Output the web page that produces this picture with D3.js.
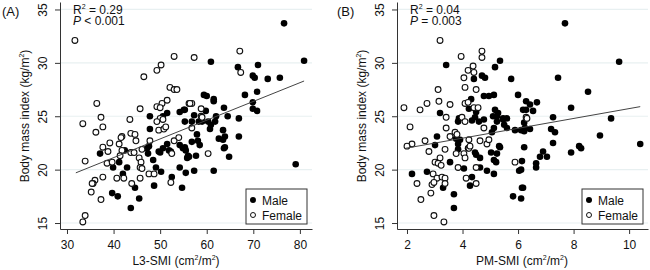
<!DOCTYPE html>
<html>
<head>
<meta charset="utf-8">
<script src="https://cdn.jsdelivr.net/npm/d3@7"></script>
<style>
  body { margin: 0; background: #fff; }
  text { font-family: Arial, "Liberation Sans", sans-serif; fill: #111; }
</style>
</head>
<body>
<div id="chart"></div>
<script>
const width = 650, height = 270;

// panel A: L3-SMI vs BMI
const maleA = [[47.8,25.0],[51.5,25.3],[50.6,25.0],[54.2,25.4],[55.1,25.6],
  [76.6,33.7],[80.9,30.2],[60.9,30.1],[66.7,29.6],[71.0,29.8],[69.9,28.8],[70.3,28.6],[73.1,28.5],[75.7,28.6],[70.8,27.3],[68.2,27.0],[59.4,27.0],[60.0,26.9],[61.5,26.6],[61.5,26.4],[69.9,26.3],[69.9,25.7],[70.8,25.5],[63.7,25.8],[59.8,25.5],[62.0,25.0],[64.5,25.0],[66.9,24.8],[57.3,25.1],[55.3,25.6],
  [47.8,23.8],[37.1,21.5],[42.4,21.8],[39.9,20.2],[41.2,20.7],[42.9,20.2],[42.0,19.6],[47.4,21.5],[47.6,22.2],[47.2,22.0],[48.5,20.9],[50.0,21.6],[49.7,21.7],[49.1,20.2],[50.2,19.8],[52.5,19.3],[50.6,22.0],[51.5,22.4],[51.9,21.8],[52.3,21.7],[54.2,20.2],[54.7,18.3],[44.6,18.3],[48.7,18.5],[39.7,17.8],[40.9,17.5],[45.5,17.3],[43.7,16.4],[54.2,22.3],[54.9,22.0],[55.5,21.8],[56.2,21.2],[55.8,21.1],
  [58.3,24.5],[59.0,24.5],[60.3,24.5],[60.9,24.2],[61.8,24.5],[55.3,24.5],[56.8,24.5],[60.7,23.8],[63.5,23.7],[66.9,23.1],[63.9,23.1],[63.5,22.8],[62.6,22.9],[57.9,23.3],[58.1,22.7],[58.5,22.3],[56.8,22.6],[55.3,22.1],[63.9,22.1],[63.7,22.0],[64.8,21.2],[56.0,21.3],[57.7,21.3],[61.5,19.9],[57.3,19.9],[79.1,20.5],[55.5,19.7]];
const femaleA = [[31.7,32.1],[53.0,30.6],[50.2,29.8],[49.3,29.3],[46.5,28.7],[52.1,27.7],[53.0,27.5],[53.6,27.5],[36.4,26.2],[51.5,26.5],[50.4,26.2],[45.7,25.7],[49.3,25.9],[50.0,25.8],[37.3,24.9],[43.5,24.7],[56.2,26.2],
  [67.1,31.1],[57.3,30.5],[67.3,29.1],[56.8,26.2],[56.4,26.2],[58.8,25.7],[58.8,25.0],
  [33.4,24.3],[36.2,23.5],[37.7,24.0],[50.0,24.8],[49.3,24.5],[50.6,24.7],[43.7,23.4],[44.6,23.3],[49.7,23.7],[50.8,23.8],[51.2,24.0],[41.8,23.1],[41.6,23.0],[44.8,22.7],[39.2,22.5],[37.7,22.1],[38.8,21.7],[41.2,22.4],[47.8,22.7],[53.0,22.7],[54.0,23.0],[41.8,21.8],[43.7,21.6],[44.4,21.6],[46.1,21.9],[41.4,21.3],[45.5,21.1],[33.9,20.8],[38.6,20.6],[39.7,20.7],[45.9,20.7],[45.7,20.2],[46.1,20.1],[47.6,19.6],[48.7,19.6],[52.5,21.5],[40.7,19.2],[42.2,19.2],[37.7,19.3],[45.7,19.2],[52.3,18.8],[36.0,19.0],[35.6,18.7],[35.4,18.7],[43.9,18.7],[35.2,17.9],[37.3,17.2],[33.9,15.7],[33.4,15.1],
  [60.3,21.5],[56.8,23.9],[59.0,24.9]];

// panel B: PM-SMI vs BMI
const maleB = [[3.41,29.8],[5.35,30.2],[5.17,29.6],[4.41,28.5],[4.70,28.8],[4.81,28.6],[5.75,28.5],[4.77,26.9],[4.95,26.9],[5.13,27.0],[6.0,27.0],[4.31,26.6],[4.23,25.7],[4.49,25.4],[3.19,25.3],[5.17,25.6],[5.28,25.3],[5.10,25.0],[5.24,25.0],[4.45,24.9],[3.87,24.8],[5.46,24.8],[5.60,24.8],[6.29,26.4],[6.29,25.6],
  [7.69,33.7],[9.64,30.1],[7.44,28.6],[8.52,27.3],[6.43,26.1],[6.68,26.3],[6.18,25.6],[6.54,25.5],[7.91,25.8],[7.26,24.9],[9.35,24.8],
  [3.08,23.1],[3.01,22.3],[3.84,22.4],[3.77,22.9],[3.91,22.8],[4.20,22.0],[3.84,21.9],[2.18,19.6],[2.72,19.8],[3.55,20.7],[4.05,20.1],[4.34,19.3],[4.27,18.5],[3.30,18.3],[3.69,17.7],[3.69,16.4],[4.49,21.4],[4.63,21.1],[4.45,21.6],[4.88,19.9],[5.13,19.6],[4.63,20.2],[5.03,21.6],[5.24,21.5],[5.13,20.9],[5.21,20.7],[5.32,22.2],[5.35,22.1],[5.06,23.5],[5.13,23.9],[5.50,24.2],[5.60,23.9],[5.89,23.7],[6.11,23.7],[6.25,23.9],[6.04,19.9],[5.82,17.5],[6.11,17.3],[6.14,18.3],[4.34,24.6],[4.59,24.5],[4.77,24.7],[5.24,24.5],[5.46,24.7],[3.84,24.5],
  [6.22,24.4],[6.43,23.8],[6.22,23.6],[7.19,23.8],[7.33,23.5],[8.95,23.2],[10.40,22.4],[7.26,22.5],[6.22,22.1],[8.20,22.2],[8.27,22.0],[7.91,21.6],[6.90,21.7],[6.79,21.2],[7.04,21.2],[6.14,20.8],[6.65,20.6],[6.65,20.2],[6.11,20.0],[6.18,18.3]];
const femaleB = [[3.19,32.1],[4.70,31.1],[4.70,30.5],[3.95,30.6],[4.38,29.7],[4.20,29.3],[4.41,29.1],[4.05,28.6],[4.09,27.7],[4.49,27.5],[3.12,27.5],[3.15,26.4],[2.72,26.2],[2.47,25.6],[1.89,25.8],[3.55,26.1],[4.09,26.2],[4.20,26.3],[4.41,25.8],[4.56,25.8],[3.41,24.9],[3.98,24.9],[6.29,24.9],
  [2.11,24.0],[2.18,22.4],[2.0,22.2],[2.65,22.7],[2.79,21.7],[3.37,21.9],[3.41,23.9],[3.55,23.1],[3.73,23.5],[3.80,23.3],[4.09,24.5],[4.23,22.8],[4.23,22.0],[4.27,22.2],[4.05,21.5],[4.09,21.1],[3.77,21.5],[3.19,21.1],[3.01,20.7],[3.12,20.6],[3.23,20.4],[3.84,20.2],[2.94,19.6],[3.08,19.2],[3.26,19.3],[3.37,19.2],[2.90,18.6],[2.97,18.8],[3.37,18.7],[4.13,19.2],[4.49,18.7],[2.36,18.7],[2.86,17.8],[2.50,17.2],[2.97,15.7],[3.33,15.1],[4.88,22.4],[4.63,22.7],[4.95,22.8],[4.49,20.2],[5.89,20.7],[4.77,23.9],[6.32,24.8]];

// fitted lines (start, end)
const fitA = [[31.9,19.7],[80.9,28.3]];
const fitB = [[1.95,22.0],[10.4,25.9]];

const yTicks = [15, 20, 25, 30, 35];
const xTicksA = [30, 40, 50, 60, 70, 80];
const xTicksB = [2, 4, 6, 8, 10];

const svg = d3.select("#chart").append("svg")
  .attr("width", width).attr("height", height);

function panel(cfg) {
  const x = d3.scaleLinear().domain(cfg.xdom).range([cfg.left, cfg.right]);
  const y = d3.scaleLinear().domain([14.44, 35.7]).range([229, 2]);
  const g = svg.append("g");

  // gridlines
  g.selectAll(".grid").data(yTicks).join("line")
    .attr("x1", cfg.left).attr("x2", cfg.right)
    .attr("y1", d => y(d)).attr("y2", d => y(d))
    .attr("stroke", "#e8f0f1").attr("stroke-width", 1.2);

  // axes
  const yAxis = g.append("g")
    .attr("transform", `translate(${cfg.left},0)`)
    .call(d3.axisLeft(y).tickValues(yTicks).tickSize(5).tickSizeOuter(0));
  yAxis.selectAll("text")
    .attr("transform", "translate(-13,0) rotate(-90)")
    .attr("x", 0).attr("y", 0).attr("dy", 0)
    .attr("text-anchor", "middle")
    .style("font-size", "12px");
  const xAxis = g.append("g")
    .attr("transform", "translate(0,229)")
    .call(d3.axisBottom(x).tickValues(cfg.xticks).tickSize(5).tickSizeOuter(0));
  xAxis.selectAll("text").attr("dy", "1em").style("font-size", "12px");
  g.selectAll(".domain, .tick line").attr("stroke", "#333");
  g.selectAll(".tick text").style("font-family", "Arial, 'Liberation Sans', sans-serif").attr("fill", "#111");

  // points
  g.selectAll(".male").data(cfg.male).join("circle")
    .attr("cx", d => x(d[0])).attr("cy", d => y(d[1])).attr("r", 3.3)
    .attr("fill", "#000");
  g.selectAll(".female").data(cfg.female).join("circle")
    .attr("cx", d => x(d[0])).attr("cy", d => y(d[1])).attr("r", 2.9)
    .attr("fill", "#fff").attr("stroke", "#111").attr("stroke-width", 1.1);

  // fit line
  g.append("line")
    .attr("x1", x(cfg.fit[0][0])).attr("y1", y(cfg.fit[0][1]))
    .attr("x2", x(cfg.fit[1][0])).attr("y2", y(cfg.fit[1][1]))
    .attr("stroke", "#444").attr("stroke-width", 1);

  // stats text
  const st = g.append("text").attr("x", cfg.left + 13).attr("y", 14).style("font-size", "12px");
  st.append("tspan").text("R");
  st.append("tspan").text("2").attr("dy", -5).style("font-size", "7px");
  st.append("tspan").text(" = " + cfg.r2).attr("dy", 5);
  const pt = g.append("text").attr("x", cfg.left + 13).attr("y", 25).style("font-size", "12px");
  pt.append("tspan").text("P").style("font-style", "italic");
  pt.append("tspan").text(" " + cfg.p);

  // panel label
  g.append("text").attr("x", cfg.labelX).attr("y", 16).style("font-size", "13px").text(cfg.label);

  // axis titles
  const yt = g.append("text")
    .attr("transform", `translate(${cfg.left - 31},116) rotate(-90)`)
    .attr("text-anchor", "middle").style("font-size", "12px");
  yt.append("tspan").text("Body mass index (kg/m");
  yt.append("tspan").text("2").attr("dy", -5).style("font-size", "7px");
  yt.append("tspan").text(")").attr("dy", 5);

  const xt = g.append("text")
    .attr("x", cfg.xTitleX).attr("y", 265)
    .attr("text-anchor", "middle").style("font-size", "12px");
  xt.append("tspan").text(cfg.xname + " (cm");
  xt.append("tspan").text("2").attr("dy", -5).style("font-size", "7px");
  xt.append("tspan").text("/m").attr("dy", 5);
  xt.append("tspan").text("2").attr("dy", -5).style("font-size", "7px");
  xt.append("tspan").text(")").attr("dy", 5);

  // legend
  const lx = cfg.right - 66, ly = 189;
  const lg = g.append("g").attr("transform", `translate(${lx},${ly})`);
  lg.append("rect").attr("width", 61).attr("height", 35)
    .attr("fill", "#fff").attr("stroke", "#333").attr("stroke-width", 1);
  lg.append("circle").attr("cx", 7).attr("cy", 11).attr("r", 3).attr("fill", "#000");
  lg.append("text").attr("x", 16).attr("y", 15.5).style("font-size", "12px").text("Male");
  lg.append("circle").attr("cx", 7).attr("cy", 26).attr("r", 2.5)
    .attr("fill", "#fff").attr("stroke", "#111").attr("stroke-width", 1);
  lg.append("text").attr("x", 16).attr("y", 30.5).style("font-size", "12px").text("Female");
}

panel({ xdom: [28.5, 82.6], left: 60, right: 312, xticks: xTicksA,
  male: maleA, female: femaleA, fit: fitA, r2: "0.29", p: "< 0.001",
  label: "(A)", labelX: 2, xname: "L3-SMI", xTitleX: 176 });
panel({ xdom: [1.64, 10.68], left: 397, right: 648, xticks: xTicksB,
  male: maleB, female: femaleB, fit: fitB, r2: "0.04", p: "= 0.003",
  label: "(B)", labelX: 337, xname: "PM-SMI", xTitleX: 522 });
</script>
</body>
</html>
